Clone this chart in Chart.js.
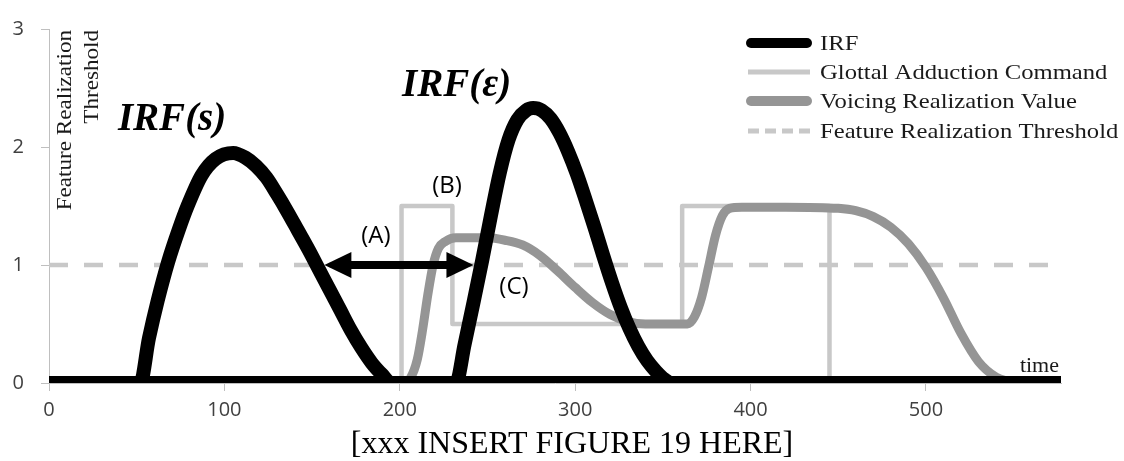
<!DOCTYPE html>
<html>
<head>
<meta charset="utf-8">
<script src="https://cdn.jsdelivr.net/npm/chart.js@4.4.1/dist/chart.umd.min.js"></script>
<style>
  html, body { margin: 0; padding: 0; background: #fff; }
  canvas { display: block; }
</style>
</head>
<body>
<canvas id="fig" width="1124" height="461"></canvas>
<script>
// ── data ──
const xTicks = [0, 100, 200, 300, 400, 500];
const yTicks = [0, 1, 2, 3];
const xMax = 577;

const seriesNames = ["IRF", "Glottal Adduction Command", "Voicing Realization Value", "Feature Realization Threshold"];

const irfX = [0, 52, 57, 62, 68, 74, 79, 87, 95, 105, 112, 118, 124, 130, 136, 142, 148, 154, 160, 166, 172, 178, 184, 190, 195,
              232, 237, 242, 247, 252, 257, 262, 267, 272, 276, 281, 286, 291, 296, 301, 306, 311, 316, 321, 326, 331, 336, 341, 346, 351, 355, 577];
const irfY = [0, 0, 0.38, 0.7, 1.03, 1.3, 1.5, 1.76, 1.9, 1.95, 1.91, 1.84, 1.74, 1.6, 1.45, 1.29, 1.13, 0.96, 0.79, 0.62, 0.45, 0.3, 0.17, 0.07, 0,
              0, 0.33, 0.68, 1.04, 1.42, 1.78, 2.06, 2.23, 2.31, 2.33, 2.31, 2.24, 2.12, 1.96, 1.77, 1.55, 1.32, 1.08, 0.85, 0.64, 0.46, 0.31, 0.19, 0.1, 0.03, 0, 0];

const glottalX = [0, 201, 201, 230, 230, 361, 361, 445, 445, 577];
const glottalY = [0, 0, 1.5, 1.5, 0.5, 0.5, 1.5, 1.5, 0, 0];

const voicingX = [0, 202, 206, 210, 213, 216, 219, 222, 226, 232, 240, 250, 260, 270, 280, 290, 300, 310, 320, 330, 340, 350,
                  364, 368, 372, 376, 380, 384, 388, 395, 420, 450, 460, 470, 480, 490, 500, 510, 520, 530, 540, 548];
const voicingY = [0, 0, 0.04, 0.2, 0.45, 0.75, 1.0, 1.14, 1.2, 1.23, 1.23, 1.23, 1.21, 1.17, 1.08, 0.95, 0.81, 0.68, 0.58, 0.52, 0.5, 0.5,
                  0.5, 0.56, 0.72, 0.98, 1.25, 1.42, 1.48, 1.49, 1.49, 1.48, 1.46, 1.41, 1.32, 1.18, 0.98, 0.72, 0.42, 0.18, 0.05, 0.01];

const thresholdX = [0, 577];
const thresholdY = [1, 1];

const arrowX = [157, 242];   // double arrow (A), at threshold level
const arrowY = 1;

const pts = (xs, ys) => xs.map((x, i) => ({ x: x, y: ys[i] }));

const serif = '"Liberation Serif", "Times New Roman", serif';
const sans  = '"Open Sans", "Noto Sans", sans-serif';

// ── text drawn over the plot ──
const notes = [
  { text: "IRF(s)", x: 39.3,  y: 2.14,  font: "italic bold 39px " + serif, align: "left",   base: "alphabetic" },
  { text: "IRF(ɛ)", x: 201.3, y: 2.43,  font: "italic bold 39px " + serif, align: "left",   base: "alphabetic" },
  { text: "(A)",    x: 186.4, y: 1.245, font: "24px " + sans,              align: "center", base: "middle" },
  { text: "(B)",    x: 226.9, y: 1.67,  font: "24px " + sans,              align: "center", base: "middle" },
  { text: "(C)",    x: 265.1, y: 0.816, font: "24px " + sans,              align: "center", base: "middle" }
];

const legendSamples = [
  { width: 10, cap: "round", dash: [] },
  { width: 5,  cap: "butt",  dash: [] },
  { width: 10, cap: "round", dash: [] },
  { width: 5,  cap: "butt",  dash: [11, 6] }
];

// draw text squeezed/stretched horizontally (the figure's text is a bit wide)
function wideText(ctx, text, x, y, sx) {
  ctx.save();
  ctx.translate(x, y);
  ctx.scale(sx, 1);
  ctx.fillText(text, 0, 0);
  ctx.restore();
}

const overlay = {
  id: "overlay",
  afterDatasetsDraw(chart) {
    const ctx = chart.ctx;
    const area = chart.chartArea;
    const xs = chart.scales.x, ys = chart.scales.y;
    ctx.save();

    // heavy black time axis
    ctx.fillStyle = "#000";
    ctx.fillRect(area.left, area.bottom - 7, area.right - area.left, 7);

    // double-headed arrow
    const x1 = xs.getPixelForValue(arrowX[0]);
    const x2 = xs.getPixelForValue(arrowX[1]);
    const y  = ys.getPixelForValue(arrowY);
    const headL = 27, headH = 13;
    ctx.strokeStyle = "#000";
    ctx.lineWidth = 8;
    ctx.beginPath();
    ctx.moveTo(x1 + headL - 2, y);
    ctx.lineTo(x2 - headL + 2, y);
    ctx.stroke();
    ctx.beginPath();
    ctx.moveTo(x1, y); ctx.lineTo(x1 + headL, y - headH); ctx.lineTo(x1 + headL, y + headH); ctx.closePath();
    ctx.fill();
    ctx.beginPath();
    ctx.moveTo(x2, y); ctx.lineTo(x2 - headL, y - headH); ctx.lineTo(x2 - headL, y + headH); ctx.closePath();
    ctx.fill();

    // labels
    notes.forEach(n => {
      ctx.font = n.font;
      ctx.textAlign = n.align;
      ctx.textBaseline = n.base;
      ctx.fillStyle = "#000";
      ctx.fillText(n.text, xs.getPixelForValue(n.x), ys.getPixelForValue(n.y));
    });
    ctx.restore();
  },
  afterDraw(chart) {
    const ctx = chart.ctx;
    const area = chart.chartArea;
    ctx.save();

    // legend, top right
    const lx0 = 751, lx1 = 807, tx = 820;
    const rows = [43, 72, 101, 131];
    chart.data.datasets.slice(0, 4).forEach((ds, i) => {
      const s = legendSamples[i];
      ctx.beginPath();
      ctx.lineWidth = s.width;
      ctx.lineCap = s.cap;
      ctx.setLineDash(s.dash);
      ctx.strokeStyle = ds.borderColor;
      ctx.moveTo(s.cap === "round" ? lx0 : lx0 - 3, rows[i]);
      ctx.lineTo(s.cap === "round" ? lx1 : lx1 + 3, rows[i]);
      ctx.stroke();
      ctx.setLineDash([]);
      ctx.font = "22px " + serif;
      ctx.fillStyle = "#1a1a1a";
      ctx.textAlign = "left";
      ctx.textBaseline = "middle";
      wideText(ctx, ds.label, tx, rows[i] + 1, 1.12);
    });

    // rotated y title inside the plot
    ctx.font = "22px " + serif;
    ctx.fillStyle = "#1a1a1a";
    ctx.textAlign = "right";
    ctx.textBaseline = "alphabetic";
    [["Feature Realization", 71], ["Threshold", 98]].forEach(([t, x]) => {
      ctx.save();
      ctx.translate(x, area.top + 1);
      ctx.rotate(-Math.PI / 2);
      wideText(ctx, t, 0, 0, 1.05);
      ctx.restore();
    });

    // "time" at the end of the x axis
    ctx.font = "22px " + serif;
    ctx.textAlign = "right";
    ctx.fillText("time", area.right - 2, area.bottom - 11);

    // caption under the chart
    ctx.font = "32px " + serif;
    ctx.textAlign = "center";
    ctx.fillStyle = "#000";
    ctx.fillText("[xxx INSERT FIGURE 19 HERE]", 572, 453);
    ctx.restore();
  }
};

new Chart(document.getElementById("fig"), {
  type: "line",
  data: {
    datasets: [
      {
        label: seriesNames[0],
        data: pts(irfX, irfY),
        borderColor: "#000000",
        borderWidth: 14,
        cubicInterpolationMode: "monotone",
        clip: 0,
        order: 0
      },
      {
        label: seriesNames[1],
        data: pts(glottalX, glottalY),
        borderColor: "#c8c8c8",
        borderWidth: 4.5,
        tension: 0,
        clip: 0,
        order: 2
      },
      {
        label: seriesNames[2],
        data: pts(voicingX, voicingY),
        borderColor: "#959595",
        borderWidth: 9,
        cubicInterpolationMode: "monotone",
        clip: 0,
        order: 1
      },
      {
        label: seriesNames[3],
        data: pts(thresholdX, thresholdY),
        borderColor: "#c8c8c8",
        borderWidth: 4.5,
        borderDash: [19, 16],
        tension: 0,
        order: 3
      }
    ]
  },
  options: {
    responsive: false,
    animation: false,
    devicePixelRatio: 1,
    layout: { padding: { top: 19, right: 63, left: 0, bottom: 0 } },
    elements: { point: { radius: 0 }, line: { borderJoinStyle: "round", borderCapStyle: "butt" } },
    plugins: { legend: { display: false }, tooltip: { enabled: false } },
    scales: {
      x: {
        type: "linear",
        min: 0, max: xMax,
        afterFit: s => { s.height = 78; },
        afterBuildTicks: s => { s.ticks = xTicks.map(v => ({ value: v })); },
        border: { display: true, color: "#bfbfbf", width: 1 },
        grid: { drawOnChartArea: false, drawTicks: true, tickLength: 8, color: "#bfbfbf" },
        ticks: { padding: 7, maxRotation: 0, autoSkip: false, color: "#404040", font: { family: sans, size: 20 } }
      },
      y: {
        min: 0, max: 3,
        afterFit: s => { s.width = 49; },
        afterBuildTicks: s => { s.ticks = yTicks.map(v => ({ value: v })); },
        border: { display: true, color: "#bfbfbf", width: 1 },
        grid: { drawOnChartArea: false, drawTicks: true, tickLength: 8, color: "#bfbfbf" },
        ticks: { padding: 17, color: "#404040", font: { family: sans, size: 20 } }
      }
    }
  },
  plugins: [overlay]
});
</script>
</body>
</html>
